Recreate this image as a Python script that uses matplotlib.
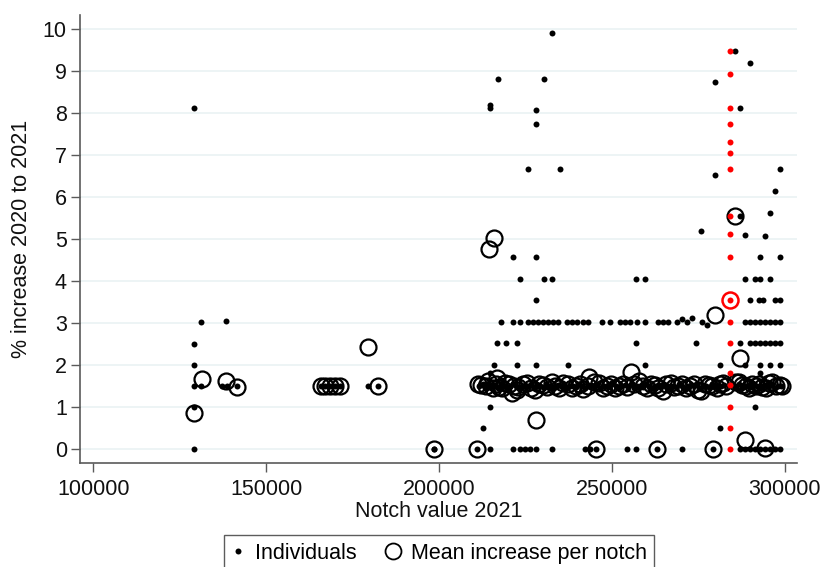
import matplotlib
matplotlib.use("Agg")
import matplotlib.pyplot as plt
from matplotlib.lines import Line2D

plt.rcParams["font.family"] = ["Liberation Sans", "DejaVu Sans"]

# individual observations (black dots)
dot_x = [
    # left group
    129200, 129200, 129200, 129200, 131150, 129200, 129200, 131150, 138480,
    137150, 138600, 141480, 165870, 167030, 168480, 169920, 171370, 179380,
    182450, 198650,
    # upper middle
    232700, 217000, 230400, 214770, 214770, 228070, 228070, 225750, 235000,
    221330, 228070, 223500, 230400, 232700, 257000, 259600, 228070,
    # upper right
    285600, 289900, 279950, 287000, 279950, 298700, 297200, 295700, 287000,
    275800, 288500, 294300, 292850, 298650, 288500, 291400, 292850, 295700,
    289900, 292700, 293800, 297200, 298650,
]
dot_y = [
    8.12, 0.0, 1.0, 1.5, 1.5, 2.0, 2.5, 3.02, 3.06,
    1.5, 1.5, 1.5, 1.5, 1.5, 1.5, 1.5, 1.5, 1.5,
    1.5, 0.0,
    9.91, 8.82, 8.82, 8.2, 8.13, 8.08, 7.75, 6.68, 6.68,
    4.57, 4.59, 4.05, 4.05, 4.05, 4.06, 4.06, 3.56,
    9.48, 9.2, 8.75, 8.12, 6.52, 6.68, 6.15, 5.62, 5.56,
    5.2, 5.1, 5.09, 4.59, 4.59, 4.06, 4.06, 4.06, 4.06,
    3.55, 3.55, 3.55, 3.55, 3.55,
]

# rows of dots sitting on common values
row3_x = [217950, 221420, 223530, 225840, 227290, 228740, 230190, 231630,
          233080, 234530, 236960, 238400, 239850, 241760, 243200, 247080,
          249480, 252370, 253820, 255260, 257200, 259600, 263450, 264900,
          266350, 268780, 270400, 271670, 273120, 276010, 277460, 288540,
          289990, 291430, 292880, 294330, 295770, 297220, 298660]
row3_y = [3.04, 3.04, 3.04, 3.04, 3.04, 3.04, 3.04, 3.04,
          3.04, 3.04, 3.04, 3.04, 3.04, 3.04, 3.04, 3.04,
          3.04, 3.04, 3.04, 3.04, 3.04, 3.04, 3.04, 3.04,
          3.04, 3.04, 3.1, 3.04, 3.13, 3.04, 2.95, 3.04,
          3.04, 3.04, 3.04, 3.04, 3.04, 3.04, 3.04]
row25_x = [216880, 219400, 222480, 257000, 274360, 287060, 289990, 291430,
           292880, 294330, 295770, 297220, 298660]
row2_x = [215920, 222580, 228070, 237420, 259600, 281400, 288540, 292880,
          295770, 298660]
row18_x = [214900, 292880]
row1_x = [214770, 291430]
row05_x = [212650, 281400]
row0_x = [198650, 211100, 214770, 221420, 223450, 224900, 226340, 228070,
          232700, 242250, 243700, 245350, 254490, 257000, 263000, 270400,
          279200, 287060, 288540, 289990, 291430, 292880, 294330, 295770,
          297220, 298660]
band_x = [211500, 212600, 213400, 214300, 215200, 216100, 217000, 217900,
          218700, 219600, 220500, 221300, 222200, 223100, 224000, 224800,
          225700, 226600, 227500, 228300, 229200, 230100, 231000, 231800,
          232700, 233600, 234500, 235300, 236200, 237100, 238000, 238800,
          239700, 240600, 241500, 242300, 243200, 244100, 245000, 245800,
          246700, 247600, 248500, 249300, 250200, 251100, 252000, 252800,
          253700, 254600, 255500, 256300, 257200, 258100, 259000, 259800,
          260700, 261600, 262500, 263300, 264200, 265100, 266000, 266800,
          267700, 268600, 269500, 270300, 271200, 272100, 273000, 273800,
          274700, 275600, 276500, 277300, 278200, 279100, 280000, 280800,
          281700, 282600, 285900, 286700, 287600, 288500, 289400, 290200,
          291100, 292000, 292900, 293700, 294600, 295500, 296400, 297200,
          298100, 299000]
band_y = [1.5, 1.55, 1.45, 1.5, 1.52, 1.5, 1.45, 1.55, 1.5, 1.48,
          1.5, 1.55, 1.5, 1.45, 1.5, 1.52, 1.5, 1.55, 1.45, 1.5,
          1.5, 1.48, 1.55, 1.5, 1.45, 1.5, 1.52, 1.5, 1.55, 1.45,
          1.5, 1.5, 1.48, 1.55, 1.5, 1.45, 1.5, 1.52, 1.5, 1.55,
          1.45, 1.5, 1.5, 1.48, 1.55, 1.5, 1.45, 1.5, 1.52, 1.5,
          1.55, 1.45, 1.5, 1.5, 1.48, 1.55, 1.5, 1.45, 1.5, 1.52,
          1.5, 1.55, 1.45, 1.5, 1.5, 1.48, 1.55, 1.5, 1.45, 1.5,
          1.52, 1.5, 1.55, 1.45, 1.5, 1.5, 1.48, 1.55, 1.5, 1.45,
          1.5, 1.52, 1.5, 1.55, 1.45, 1.5, 1.5, 1.48, 1.55, 1.5,
          1.45, 1.5, 1.52, 1.5, 1.55, 1.45, 1.5, 1.5]

# highlighted notch (red)
red_x = 284170
red_y = [9.48, 8.94, 8.12, 7.75, 7.32, 7.05, 6.68, 5.56, 5.12, 4.59,
         3.55, 3.04, 2.52, 1.82, 1.53, 1.0, 0.5, 0.0]
red_mean = 3.55

# mean increase per notch (hollow circles)
mean_x = [129200, 131450, 138390, 141480, 165870, 167030, 168480, 169920,
          171370, 179560, 182450, 198650, 211100, 214500, 215900, 228070,
          245350, 263000, 279200, 288540, 294330, 279800, 285600, 287060,
          216700, 243500, 255450, 211400, 221040]
mean_y = [0.86, 1.68, 1.63, 1.49, 1.5, 1.5, 1.5, 1.5,
          1.5, 2.44, 1.5, 0.0, 0.0, 4.78, 5.04, 0.7,
          0.0, 0.0, 0.0, 0.22, 0.04, 3.2, 5.56, 2.17,
          1.7, 1.73, 1.84, 1.55, 1.35]

# notch means packed into the 1.5 band
band_mean_x = [212300, 213500, 214200, 215600, 216400, 217400, 218200, 219200,
               220300, 221800, 222600, 223000, 224200, 225400, 226500, 227800,
               229000, 230100, 231300, 232600, 233700, 234800, 235900, 237300,
               238400, 239600, 240700, 241800, 243000, 244800, 246200, 247400,
               248600, 249800, 251000, 252100, 253100, 254300, 256500, 257800,
               258900, 260100, 261200, 262400, 263500, 264700, 265800, 267000,
               268100, 269200, 270300, 271500, 272600, 273700, 274800, 275900,
               277000, 278000, 279000, 280300, 281200, 282300, 283000, 285900,
               286900, 287800, 288800, 289700, 290700, 291600, 292600, 293500,
               294500, 295400, 296400, 297500, 298700, 299200]
band_mean_y = [1.52, 1.5, 1.62, 1.45, 1.55, 1.48, 1.45, 1.58, 1.55, 1.5,
               1.42, 1.48, 1.55, 1.57, 1.45, 1.42, 1.55, 1.52, 1.48, 1.6,
               1.5, 1.46, 1.58, 1.55, 1.45, 1.5, 1.55, 1.43, 1.5, 1.6,
               1.58, 1.47, 1.5, 1.55, 1.45, 1.5, 1.55, 1.48, 1.55, 1.62,
               1.5, 1.47, 1.55, 1.53, 1.45, 1.4, 1.55, 1.57, 1.48, 1.5,
               1.55, 1.45, 1.5, 1.55, 1.42, 1.4, 1.55, 1.52, 1.5, 1.47,
               1.55, 1.57, 1.5, 1.6, 1.6, 1.52, 1.5, 1.45, 1.55, 1.5,
               1.55, 1.48, 1.45, 1.58, 1.6, 1.5, 1.53, 1.5]

fig = plt.figure(figsize=(8.21, 5.67), dpi=100)
ax = fig.add_axes([80 / 821, 104 / 567, 717 / 821, 448 / 567])

dot_kw = dict(ls="none", marker="o", ms=4.3, color="black", mew=0)
ax.plot(dot_x, dot_y, **dot_kw)
ax.plot(row3_x, row3_y, **dot_kw)
ax.plot(row25_x, [2.52] * len(row25_x), **dot_kw)
ax.plot(row2_x, [2.01] * len(row2_x), **dot_kw)
ax.plot(row18_x, [1.82] * len(row18_x), **dot_kw)
ax.plot(row1_x, [1.0] * len(row1_x), **dot_kw)
ax.plot(row05_x, [0.5] * len(row05_x), **dot_kw)
ax.plot(row0_x, [0.0] * len(row0_x), **dot_kw)
ax.plot(band_x, band_y, **dot_kw)

circ_kw = dict(ls="none", marker="o", ms=11.5, mfc="none", mec="black",
               mew=1.6)
ax.plot(mean_x, mean_y, **circ_kw)
ax.plot(band_mean_x, band_mean_y, **circ_kw)

ax.plot([red_x] * len(red_y), red_y, ls="none", marker="o", ms=4.3,
        color="red", mew=0)
ax.plot([red_x], [red_mean], ls="none", marker="o", ms=11.5, mfc="none",
        mec="red", mew=1.8)

ax.set_xlim(96150, 303580)
ax.set_ylim(-0.326, 10.34)
ax.set_xticks([100000, 150000, 200000, 250000, 300000])
ax.set_yticks(range(0, 11))
ax.grid(axis="y", color="#eaf2f3", lw=1.2)
ax.set_axisbelow(True)

for side in ("top", "right"):
    ax.spines[side].set_visible(False)
for side in ("left", "bottom"):
    ax.spines[side].set_color("#5a5a5a")
    ax.spines[side].set_linewidth(1.2)
ax.tick_params(direction="out", length=6.5, width=1, color="#5a5a5a",
               labelsize=15.5, labelcolor="#111111")
ax.tick_params(axis="x", pad=5)
ax.tick_params(axis="y", pad=3)

ax.set_xlabel("Notch value 2021", fontsize=15.5, color="#111111", labelpad=1)
ax.set_ylabel("% increase 2020 to 2021", fontsize=15.5, color="#111111",
              labelpad=8)

handles = [
    Line2D([], [], ls="none", marker="o", ms=4.3, color="black", mew=0),
    Line2D([], [], ls="none", marker="o", ms=11.5, mfc="none", mec="black",
           mew=1.3),
]
leg = fig.legend(handles, ["Individuals", "Mean increase per notch"],
                 loc="upper center", bbox_to_anchor=(439 / 821, 1 - 535 / 567),
                 ncol=2, fontsize=15.5, frameon=True, fancybox=False,
                 handlelength=0.6, handletextpad=0.5, columnspacing=1.4,
                 borderpad=0.35, borderaxespad=0)
leg.get_frame().set_edgecolor("#333333")
leg.get_frame().set_linewidth(1.0)

fig.savefig("out.png", dpi=100)
